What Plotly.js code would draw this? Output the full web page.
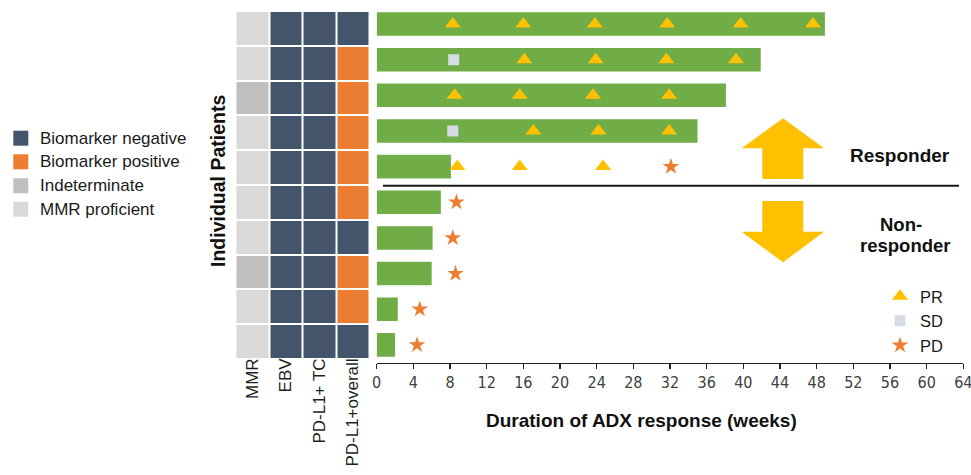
<!DOCTYPE html>
<html>
<head>
<meta charset="utf-8">
<script src="https://cdn.plot.ly/plotly-3.0.1.min.js"></script>
<style>html,body{margin:0;padding:0;background:#fff;}#chart{width:971px;height:475px;}</style>
</head>
<body>
<div id="chart"></div>
<script>
// ---------- data ----------
const patients = ['Pt 1','Pt 2','Pt 3','Pt 4','Pt 5','Pt 6','Pt 7','Pt 8','Pt 9','Pt 10'];
const biomarkers = ['MMR','EBV','PD-L1+ TC','PD-L1+overall'];
// status codes: 0 = Biomarker negative, 1 = Biomarker positive, 2 = Indeterminate, 3 = MMR proficient
const statusMMR     = [3,3,2,3,3,3,3,2,3,3];
const statusEBV     = [0,0,0,0,0,0,0,0,0,0];
const statusPDL1TC  = [0,0,0,0,0,0,0,0,0,0];
const statusPDL1All = [0,1,1,1,1,1,0,1,1,0];
const statusNames = ['Biomarker negative','Biomarker positive','Indeterminate','MMR proficient'];

const durationWeeks = [48.9, 41.9, 38.1, 35.0, 8.1, 7.0, 6.1, 6.0, 2.3, 2.0];

const prPatient = ['Pt 1','Pt 1','Pt 1','Pt 1','Pt 1','Pt 1','Pt 2','Pt 2','Pt 2','Pt 2','Pt 3','Pt 3','Pt 3','Pt 3','Pt 4','Pt 4','Pt 4','Pt 5','Pt 5','Pt 5'];
const prWeek    = [8.3,16.0,23.8,31.7,39.7,47.6, 16.1,23.9,31.6,39.2, 8.5,15.6,23.6,31.9, 17.1,24.2,31.9, 8.8,15.6,24.7];
const sdPatient = ['Pt 2','Pt 4'];
const sdWeek    = [8.4, 8.3];
const pdPatient = ['Pt 5','Pt 6','Pt 7','Pt 8','Pt 9','Pt 10'];
const pdWeek    = [32.1, 8.7, 8.3, 8.6, 4.7, 4.4];

const xTicks = [0,4,8,12,16,20,24,28,32,36,40,44,48,52,56,60,64];

// ---------- helpers ----------
const W = 971, H = 475;
const px = v => v / W;
const py = v => 1 - v / H;
function pathFrom(points){
  return 'M' + points.map(p => px(p[0]).toFixed(5) + ',' + py(p[1]).toFixed(5)).join(' L') + ' Z';
}

const colNavy = '#44546A', colOrange = '#ED7D31', colIndet = '#BFBFBF', colMMR = '#D9D9D9';
const statusColors = [colNavy, colOrange, colIndet, colMMR];

// heatmap matrix rows = patients, cols = biomarkers
const z = patients.map((p, i) => [statusMMR[i], statusEBV[i], statusPDL1TC[i], statusPDL1All[i]]);

const traces = [
  {
    type: 'heatmap', x: biomarkers, y: patients, z: z,
    xaxis: 'x', yaxis: 'y',
    zmin: -0.5, zmax: 3.5,
    colorscale: [[0,colNavy],[0.25,colNavy],[0.25,colOrange],[0.5,colOrange],[0.5,colIndet],[0.75,colIndet],[0.75,colMMR],[1,colMMR]],
    showscale: false, xgap: 2, ygap: 2, hoverinfo: 'skip', showlegend: false
  },
  {
    type: 'bar', orientation: 'h', x: durationWeeks, y: patients,
    xaxis: 'x2', yaxis: 'y2', width: 0.66,
    marker: {color: '#70AD47', line: {width: 0}},
    showlegend: false, hoverinfo: 'skip'
  },
  {
    type: 'scatter', mode: 'markers', name: 'PR', x: prWeek, y: prPatient,
    xaxis: 'x2', yaxis: 'y2',
    marker: {symbol: 'triangle-up', size: 14, color: '#FFC000'}
  },
  {
    type: 'scatter', mode: 'markers', name: 'SD', x: sdWeek, y: sdPatient,
    xaxis: 'x2', yaxis: 'y2',
    marker: {symbol: 'square', size: 11, color: '#D6DCE4'}
  },
  {
    type: 'scatter', mode: 'markers', name: 'PD', x: pdWeek, y: pdPatient,
    xaxis: 'x2', yaxis: 'y2',
    marker: {symbol: 'star', size: 12.5, color: '#ED7D31'}
  }
];

// biomarker legend (left)
const legRowsY = [138.2, 161.8, 185.8, 209.2];
const shapes = [];
const annotations = [];
statusNames.forEach((name, i) => {
  shapes.push({type:'rect', xref:'paper', yref:'paper',
    x0: px(13.3), x1: px(28.3), y0: py(legRowsY[i] + 7.5), y1: py(legRowsY[i] - 7.5),
    fillcolor: statusColors[i], line: {width: 0}});
  annotations.push({xref:'paper', yref:'paper', x: px(37.5), y: py(legRowsY[i]),
    xanchor:'left', yanchor:'middle', showarrow:false, text: name,
    font: {family:'Liberation Sans, Arial, sans-serif', size: 17, color:'#1a1a1a'}});
});

// separator line
shapes.push({type:'line', xref:'paper', yref:'paper', x0: px(383), x1: px(959), y0: py(185.7), y1: py(185.7),
  line: {color:'#1a1a1a', width: 2}});
// arrows
shapes.push({type:'path', xref:'paper', yref:'paper', fillcolor:'#FFC000', line:{width:0},
  path: pathFrom([[783,118.3],[824,148.3],[803.3,148.3],[803.3,179],[762.3,179],[762.3,148.3],[741.7,148.3]])});
shapes.push({type:'path', xref:'paper', yref:'paper', fillcolor:'#FFC000', line:{width:0},
  path: pathFrom([[762.3,201],[803.3,201],[803.3,231.7],[824,231.7],[783,262.3],[741.7,231.7],[762.3,231.7]])});

const boldFont = {family:'Liberation Sans, Arial, sans-serif', size: 19, color:'#111', weight: 700};
annotations.push({xref:'paper', yref:'paper', x: px(218), y: py(181), textangle: -90,
  showarrow:false, text:'<b>Individual Patients</b>', font: {...boldFont, size: 19.5}, xanchor:'center', yanchor:'middle'});
annotations.push({xref:'paper', yref:'paper', x: px(641), y: py(420),
  showarrow:false, text:'<b>Duration of ADX response (weeks)</b>', font: boldFont, xanchor:'center', yanchor:'middle'});
annotations.push({xref:'paper', yref:'paper', x: px(900), y: py(155),
  showarrow:false, text:'<b>Responder</b>', font: boldFont, xanchor:'center', yanchor:'middle'});
annotations.push({xref:'paper', yref:'paper', x: px(901), y: py(225),
  showarrow:false, text:'<b>Non-</b>', font: {...boldFont, size: 18.5}, xanchor:'center', yanchor:'middle'});
annotations.push({xref:'paper', yref:'paper', x: px(904.5), y: py(245.5),
  showarrow:false, text:'<b>responder</b>', font: {...boldFont, size: 18.5}, xanchor:'center', yanchor:'middle'});

const layout = {
  width: W, height: H,
  margin: {l:0, r:0, t:0, b:0},
  paper_bgcolor: '#fff', plot_bgcolor: 'rgba(0,0,0,0)',
  font: {family:'Liberation Sans, Arial, sans-serif', color:'#222'},
  showlegend: true,
  legend: {x: px(880), y: py(279), xanchor:'left', yanchor:'top',
    font: {family:'Liberation Sans, Arial, sans-serif', size: 16.5, color:'#1a1a1a'},
    bgcolor:'rgba(0,0,0,0)', borderwidth: 0, traceorder:'normal', itemclick:false},
  xaxis: {domain: [px(235.5), px(369.5)], anchor:'y', type:'category',
    tickangle: -90, ticks:'', showline:false, showgrid:false, zeroline:false,
    ticklabelstandoff: -5,
    tickfont: {family:'Liberation Sans, Arial, sans-serif', size: 17, color:'#1f1f1f'}},
  yaxis: {domain: [py(359), py(11)], anchor:'x', type:'category', range:[9.5,-0.5],
    showticklabels:false, ticks:'', showline:false, showgrid:false, zeroline:false},
  xaxis2: {domain: [px(376.7), px(963.3)], anchor:'y2', range:[0,64],
    tickmode:'array', tickvals: xTicks, ticktext: xTicks.map(String),
    ticks:'outside', ticklen: 5, tickwidth: 1.2, tickcolor:'#222',
    ticklabeloverflow: 'allow',
    showline:true, linecolor:'#222', linewidth:1.3, showgrid:false, zeroline:false,
    tickfont: {family:'Liberation Sans Narrow, DejaVu Sans Condensed, Arial Narrow, sans-serif', size: 16, color:'#404040'}},
  yaxis2: {domain: [py(362.7), py(6.2)], anchor:'x2', type:'category', range:[9.5,-0.5],
    showticklabels:false, ticks:'', showline:false, showgrid:false, zeroline:false},
  shapes: shapes,
  annotations: annotations
};

Plotly.newPlot('chart', traces, layout, {displayModeBar:false, staticPlot:true});
</script>
</body>
</html>
